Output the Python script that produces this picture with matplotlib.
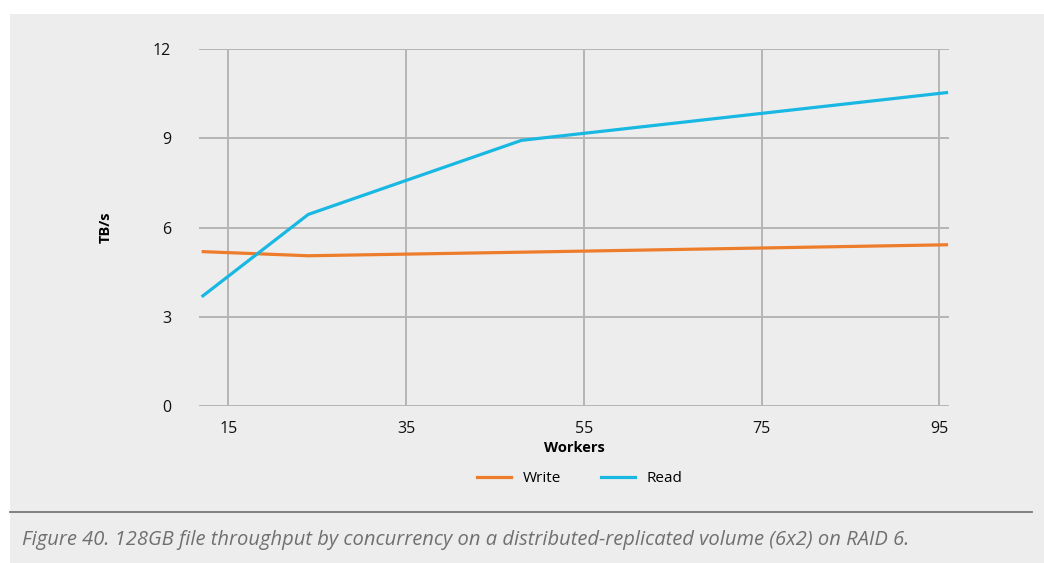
import matplotlib.pyplot as plt
from matplotlib.patches import Rectangle
from matplotlib.lines import Line2D

workers = [12, 24, 48, 96]
write_tbs = [5.19, 5.05, 5.17, 5.42]
read_tbs = [3.67, 6.44, 8.93, 10.54]
xticks = [15, 35, 55, 75, 95]
yticks = [0, 3, 6, 9, 12]

W, H = 1044, 563
bg = '#ededed'
plt.rcParams['font.family'] = ['Open Sans', 'DejaVu Sans']

fig = plt.figure(figsize=(W / 100, H / 100), dpi=100)
fig.patch.set_facecolor('white')
fig.patches.append(Rectangle((10 / W, 0), 1 - 10 / W, 1 - 14 / H,
                             transform=fig.transFigure, facecolor=bg,
                             edgecolor='none', zorder=-10))

ax = fig.add_axes([199 / W, 1 - 406 / H, (949 - 199) / W, (406 - 49) / H])
ax.set_facecolor(bg)
ax.plot(workers, write_tbs, color='#ee7d2b', lw=2.3, solid_capstyle='butt', zorder=3)
ax.plot(workers, read_tbs, color='#18b8e3', lw=2.3, solid_capstyle='butt', zorder=4)

ax.set_xlim(11.7, 96.1)
ax.set_ylim(0, 12)
ax.set_xticks(xticks)
ax.set_yticks(yticks)
ax.grid(True, color='#b5b5b5', lw=1.4)
ax.set_axisbelow(True)
for s in ax.spines.values():
    s.set_visible(False)
ax.tick_params(length=0, labelsize=11.5, colors='#111111', pad=11)
ax.tick_params(axis='y', pad=20)
ax.set_xlabel('Workers', fontsize=10.5, fontweight='bold', labelpad=3)
ax.set_ylabel('TB/s', fontsize=10.5, fontweight='bold', labelpad=29)

handles = [Line2D([], [], color='#ee7d2b', lw=2.3),
           Line2D([], [], color='#18b8e3', lw=2.3)]
fig.legend(handles, ['Write', 'Read'], loc='center', ncol=2, frameon=False,
           bbox_to_anchor=(580 / W, 1 - 479 / H), fontsize=11,
           handlelength=2.2, columnspacing=2.6, handletextpad=0.8)

fig.add_artist(Line2D([10 / W, 1032 / W], [1 - 512 / H] * 2,
                      transform=fig.transFigure, color='#777777', lw=1.3))
fig.text(22 / W, 1 - 540 / H,
         'Figure 40. 128GB file throughput by concurrency on a distributed-replicated volume (6x2) on RAID 6.',
         fontsize=14.5, style='italic', color='#707070', va='center', ha='left')

fig.savefig('out.png', dpi=100, facecolor='white')
